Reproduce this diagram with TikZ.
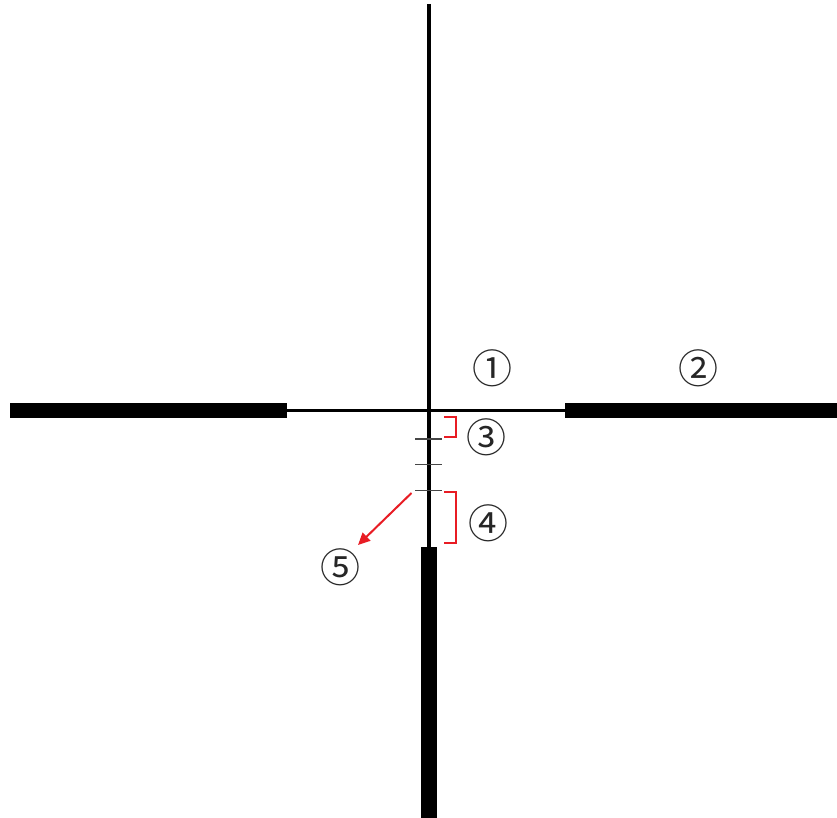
\documentclass[tikz,border=0pt]{standalone}
\usepackage{fontspec}
\newfontfamily\cjk{Noto Sans CJK JP}
\usetikzlibrary{arrows.meta}
\definecolor{redmark}{RGB}{232,28,36}
\definecolor{tickgray}{RGB}{70,70,70}
\begin{document}
\begin{tikzpicture}[x=1pt,y=-1pt,
  thinline/.style={line width=3.6pt,black},
  post/.style={fill=black},
  tickline/.style={line width=1.8pt,tickgray},
  bracket/.style={line width=2pt,draw=redmark},
  num/.style={font=\cjk\fontsize{40}{40}\selectfont,inner sep=0pt,text=black!85}]
\useasboundingbox (0,0) rectangle (837,818);
% thin cross lines
\draw[thinline] (429,4) -- (429,550);
\draw[thinline] (285,410.5) -- (568,410.5);
% thick posts
\fill[post] (10,403) rectangle (287,418);
\fill[post] (565,403) rectangle (837,418);
\fill[post] (421,547) rectangle (436.5,818);
% ticks
\draw[tickline] (415,439) -- (442,439);
\draw[tickline] (415,464.5) -- (442,464.5);
\draw[tickline] (415,490.5) -- (442,490.5);
% brackets
\draw[bracket] (444,417) -- (456,417) -- (456,436.5) -- (444,436.5);
\draw[bracket] (444,492) -- (456,492) -- (456,543) -- (444,543);
% arrow
\coordinate (a1) at (411.5,493);
\coordinate (a2) at (358,545);
\draw[draw=redmark,fill=redmark,line width=2pt,-{Triangle[length=12pt,width=11pt]}] (a1) -- (a2);
% labels
\node[num] (n1) at (492,368) {①};
\node[num] (n2) at (698,368) {②};
\node[num] (n3) at (486,437) {③};
\node[num] (n4) at (488,523) {④};
\node[num] (n5) at (340,567) {⑤};
\end{tikzpicture}
\end{document}
